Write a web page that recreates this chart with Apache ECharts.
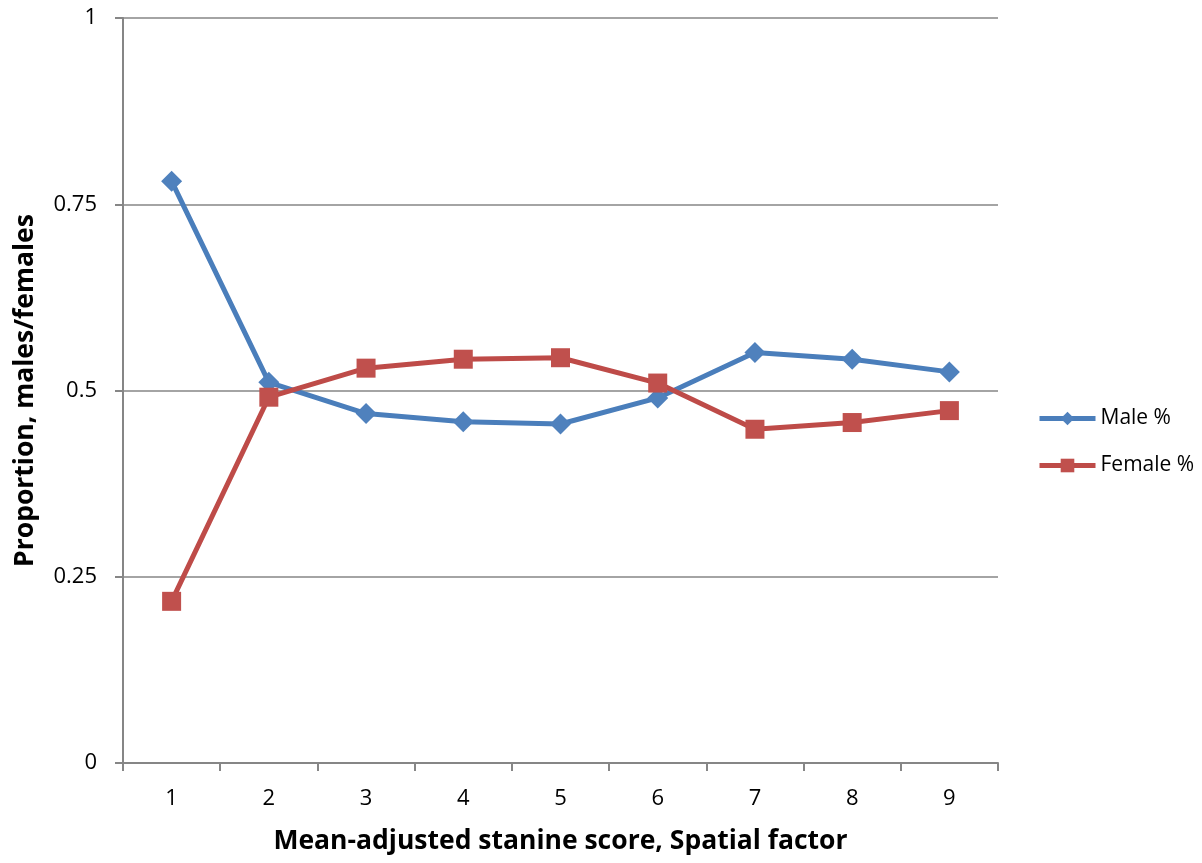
<!DOCTYPE html>
<html><head><meta charset="utf-8">
<script src="https://cdn.jsdelivr.net/npm/echarts@6/dist/echarts.min.js"></script>
<style>html,body{margin:0;padding:0;background:#fff}#c{width:1202px;height:863px}</style>
</head><body><div id="c"></div>
<script>
const categories = ['1','2','3','4','5','6','7','8','9'];
const maleValues = [0.781, 0.511, 0.469, 0.458, 0.455, 0.490, 0.551, 0.542, 0.525];
const femaleValues = [0.217, 0.491, 0.530, 0.542, 0.544, 0.510, 0.448, 0.457, 0.473];
const seriesNames = ['Male %', 'Female %'];
const xTitle = 'Mean-adjusted stanine score, Spatial factor';
const yTitle = 'Proportion, males/females';

const font = '"Open Sans", sans-serif';
const chart = echarts.init(document.getElementById('c'));
chart.setOption({
  animation: false,
  textStyle: {fontFamily: font},
  grid: {left: 123, right: 204, top: 18, bottom: 100, containLabel: false, outerBoundsMode: 'none'},
  legend: {
    orient: 'vertical', left: 1037, top: 408, padding: 0,
    itemWidth: 56, itemHeight: 17, itemGap: 26,
    lineStyle: {width: 5},
    textStyle: {fontSize: 21, color: '#000', fontFamily: font},
    data: seriesNames
  },
  xAxis: {
    type: 'category', data: categories, boundaryGap: true,
    name: xTitle, nameLocation: 'middle', nameGap: 65,
    nameTextStyle: {fontSize: 26.5, fontWeight: 'bold', color: '#000', fontFamily: font},
    axisLine: {lineStyle: {color: '#868686', width: 2}},
    axisTick: {show: true, length: 8, inside: false, lineStyle: {color: '#868686', width: 2}},
    axisLabel: {fontSize: 22, color: '#000', margin: 25}
  },
  yAxis: {
    type: 'value', min: 0, max: 1, interval: 0.25,
    name: yTitle, nameLocation: 'middle', nameGap: 84, nameRotate: 90,
    nameTextStyle: {fontSize: 26.5, fontWeight: 'bold', color: '#000', fontFamily: font},
    axisLine: {show: true, lineStyle: {color: '#868686', width: 2}},
    axisTick: {show: true, length: 8, lineStyle: {color: '#868686', width: 2}},
    axisLabel: {fontSize: 22, color: '#000', margin: 26},
    splitLine: {lineStyle: {color: '#868686', width: 1.5}}
  },
  series: [
    {name: seriesNames[0], type: 'line', data: maleValues,
     symbol: 'diamond', symbolSize: 21,
     lineStyle: {color: '#4A7EBB', width: 5},
     itemStyle: {color: '#4F81BD'}},
    {name: seriesNames[1], type: 'line', data: femaleValues,
     symbol: 'rect', symbolSize: 19,
     lineStyle: {color: '#BE4B48', width: 5},
     itemStyle: {color: '#C0504D'}}
  ]
});
</script></body></html>
